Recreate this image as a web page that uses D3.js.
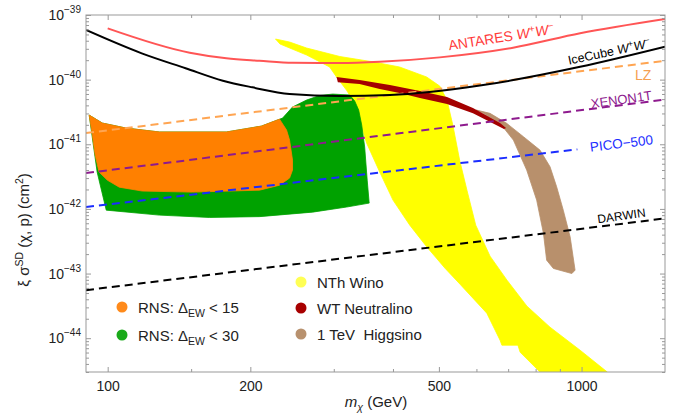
<!DOCTYPE html>
<html>
<head>
<meta charset="utf-8">
<script src="https://cdn.jsdelivr.net/npm/d3@7"></script>
<style>
  body { margin: 0; background: #fff; }
  svg { font-family: "Liberation Sans", Arial, sans-serif; }
</style>
</head>
<body>
<div id="chart"></div>
<script>
// ---- data: [m_chi (GeV), xi*sigma_SD (cm^2)] ----
const antares = [[100, 6.22e-40], [149, 2.61e-40], [178, 2.14e-40], [209, 1.96e-40], [246, 1.82e-40],
  [309, 1.81e-40], [375, 1.89e-40], [502, 2.21e-40], [717, 3.12e-40], [993, 5.21e-40], [1500, 8.67e-40]]
const icecube = [[90, 5.86e-40], [118, 2.55e-40], [146, 1.50e-40], [175, 9.62e-41], [202, 7.60e-41],
  [242, 5.98e-41], [309, 5.57e-41], [394, 5.78e-41], [610, 8.11e-41], [993, 1.58e-40], [1500, 3.23e-40]]
const lz = [[90, 1.49e-41], [1500, 1.96e-40]]
const xenon1t = [[90, 3.58e-42], [1500, 4.92e-41]]
const pico500 = [[90, 1.07e-42], [980, 8.34e-42]]
const darwin = [[90, 5.53e-44], [1500, 7.13e-43]]

const rnsEW30 = [[91.4, 2.83e-41], [97.4, 2.13e-41], [109.4, 1.78e-41], [128.5, 1.55e-41], [178.1, 1.55e-41],
  [211.1, 1.91e-41], [233.9, 2.54e-41], [245.5, 3.77e-41], [262.8, 4.83e-41], [280, 5.67e-41], [298.4, 5.98e-41],
  [324.1, 5.78e-41], [332.1, 4.67e-41], [338.6, 3.38e-41], [343.6, 1.98e-41], [348.6, 9.05e-42], [352.9, 2.79e-42],
  [356.3, 1.23e-42], [319.4, 1.07e-42], [270.6, 8.92e-43], [209.1, 7.60e-43], [163.9, 7.38e-43], [128.5, 8.02e-43],
  [99.3, 9.57e-43], [95.0, 3.72e-42]]
const rnsEW15 = [[91.4, 2.83e-41], [97.4, 2.13e-41], [109.4, 1.78e-41], [128.5, 1.55e-41], [178.1, 1.55e-41],
  [211.1, 1.91e-41], [230.5, 2.45e-41], [238.5, 1.66e-41], [242.0, 1.16e-41], [245.5, 5.69e-42], [245.5, 3.99e-42],
  [242.0, 3.00e-42], [230.5, 2.33e-42], [209.1, 1.95e-42], [150.9, 1.82e-42], [118.3, 1.89e-42], [105.8, 2.17e-42],
  [99.8, 2.79e-42], [95.9, 3.72e-42], [94.1, 6.81e-42], [92.7, 1.49e-41]]
const nthWino = [[226, 4.25e-40], [242, 3.82e-40], [263, 3.08e-40], [309, 2.28e-40], [362, 1.89e-40],
  [413, 1.57e-40], [471, 1.10e-40], [502, 7.96e-41], [520, 4.83e-41], [535, 1.98e-41], [553, 5.69e-42],
  [573, 1.95e-42], [598, 5.61e-43], [641, 1.86e-43], [696, 7.91e-44], [767, 3.13e-44], [858, 1.48e-44],
  [993, 6.52e-45], [1133, 3.0e-45], [817, 3.0e-45], [742, 6.07e-45], [734, 7.80e-45], [679, 7.80e-45],
  [673, 9.31e-45], [631, 2.44e-44], [554, 6.85e-44], [515, 1.21e-43], [472, 2.56e-43], [434, 5.61e-43],
  [400, 1.37e-42], [375, 3.72e-42], [352, 1.04e-41], [344, 1.78e-41], [332, 4.35e-41], [319, 6.90e-41],
  [304, 1.10e-40], [294, 1.57e-40], [263, 2.40e-40], [231, 3.56e-40]]
const wtNeutralino = [[304, 1.10e-40], [340, 9.86e-41], [394, 8.25e-41], [456, 6.66e-41], [520, 5.38e-41],
  [590, 3.63e-41], [673, 2.13e-41], [693, 1.78e-41], [686, 1.72e-41], [590, 3.02e-41], [520, 4.20e-41],
  [456, 5.20e-41], [413, 6.20e-41], [375, 7.15e-41], [340, 8.55e-41], [306, 9.10e-41]]
const higgsino1TeV = [[600, 3.38e-41], [641, 3.01e-41], [695, 2.11e-41], [754, 1.31e-41], [817, 8.13e-42],
  [858, 4.49e-42], [886, 2.20e-42], [915, 9.57e-43], [946, 3.70e-43], [969, 1.13e-43], [954, 1.00e-43],
  [872, 1.20e-43], [844, 1.61e-43], [831, 4.18e-43], [804, 1.37e-42], [766, 3.99e-42], [718, 1.16e-41],
  [673, 2.11e-41], [620, 3.01e-41]]

// ticks
const xTicksMajor = [100, 200, 500, 1000]
const xTicksMinor = [150, 300, 400, 600, 700, 800, 900]
const yTickExponents = [-39, -40, -41, -42, -43, -44]

// 1. dimensions
let dimensions = {
  width: 678,
  height: 416,
  margin: { top: 15, right: 13, bottom: 44, left: 86 },
}
dimensions.boundedWidth = dimensions.width - dimensions.margin.left - dimensions.margin.right
dimensions.boundedHeight = dimensions.height - dimensions.margin.top - dimensions.margin.bottom

// 2. canvas
const wrapper = d3.select("#chart").append("svg")
  .attr("width", dimensions.width)
  .attr("height", dimensions.height)

const bounds = wrapper.append("g")
  .attr("transform", `translate(${dimensions.margin.left},${dimensions.margin.top})`)

bounds.append("clipPath").attr("id", "plotclip")
  .append("rect")
  .attr("width", dimensions.boundedWidth)
  .attr("height", dimensions.boundedHeight)

// 3. scales
const xScale = d3.scaleLog().domain([90, 1500]).range([0, dimensions.boundedWidth])
const yScale = d3.scaleLog().domain([3e-45, 1e-39]).range([dimensions.boundedHeight, 0])

const lineGen = d3.line().x(d => xScale(d[0])).y(d => yScale(d[1]))
const smoothLine = d3.line().x(d => xScale(d[0])).y(d => yScale(d[1])).curve(d3.curveMonotoneX)
const areaGen = d3.line().x(d => xScale(d[0])).y(d => yScale(d[1])).curve(d3.curveLinearClosed)

// 4. regions
const plot = bounds.append("g").attr("clip-path", "url(#plotclip)")

const regions = [
  { pts: nthWino, color: "#ffff00", sw: 0.8 },
  { pts: rnsEW30, color: "#00a200", sw: 0.8 },
  { pts: rnsEW15, color: "#ff8000", sw: 0.8 },
  { pts: higgsino1TeV, color: "#b8906c", sw: 0.8 },
  { pts: wtNeutralino, color: "#a40000", sw: 0 },
]
plot.selectAll("path.region")
  .data(regions)
  .join("path")
  .attr("class", "region")
  .attr("d", r => areaGen(r.pts))
  .attr("fill", r => r.color)
  .attr("stroke", r => r.color)
  .attr("stroke-width", r => r.sw)

// 5. limit curves
const curves = [
  { pts: lz, color: "#ffa552", dash: "8,5", gen: lineGen },
  { pts: xenon1t, color: "#8e1a8e", dash: "8,5", gen: lineGen },
  { pts: pico500, color: "#1a2cff", dash: "8,5", gen: lineGen },
  { pts: darwin, color: "#000000", dash: "8,5", gen: lineGen },
  { pts: antares, color: "#ff5555", dash: null, gen: smoothLine },
  { pts: icecube, color: "#000000", dash: null, gen: smoothLine },
]
plot.selectAll("path.curve")
  .data(curves)
  .join("path")
  .attr("class", "curve")
  .attr("d", c => c.gen(c.pts))
  .attr("fill", "none")
  .attr("stroke", c => c.color)
  .attr("stroke-width", 2)
  .attr("stroke-dasharray", c => c.dash)

// curve labels
const ww = (sel) => {
  sel.append("tspan").attr("font-style", "italic").text("W")
  sel.append("tspan").attr("dy", -5).attr("font-size", "0.7em").text("+")
  sel.append("tspan").attr("dy", 5).attr("font-style", "italic").text("W")
  sel.append("tspan").attr("dy", -5).attr("font-size", "0.7em").text("−")
}
const labels = wrapper.append("g")

const antLabel = labels.append("text")
  .attr("transform", "translate(502,42) rotate(-9)")
  .attr("text-anchor", "middle").attr("font-size", 14).attr("fill", "#ff3b3b")
antLabel.append("tspan").text("ANTARES ")
ww(antLabel)

const iceLabel = labels.append("text")
  .attr("transform", "translate(610,56) rotate(-12)")
  .attr("text-anchor", "middle").attr("font-size", 12.5).attr("fill", "#000")
iceLabel.append("tspan").text("IceCube ")
ww(iceLabel)

labels.append("text").attr("x", 635).attr("y", 80).attr("font-size", 14)
  .attr("fill", "#f5a04f").text("LZ")
labels.append("text").attr("transform", "translate(622,104) rotate(-8)")
  .attr("text-anchor", "middle").attr("font-size", 13).attr("fill", "#8e1a8e").text("XENON1T")
labels.append("text").attr("transform", "translate(622,148) rotate(-7)")
  .attr("text-anchor", "middle").attr("font-size", 13.5).attr("fill", "#1a2cff").text("PICO−500")
labels.append("text").attr("transform", "translate(622,220) rotate(-8)")
  .attr("text-anchor", "middle").attr("font-size", 12).attr("fill", "#000").text("DARWIN")

// 6. legend
const legendItems = [
  { x: 122, y: 307, color: "#ff8a1a", label: ["RNS: Δ", "EW", "< 15"] },
  { x: 122, y: 335, color: "#1aaa1a", label: ["RNS: Δ", "EW", "< 30"] },
  { x: 301, y: 282, color: "#ffff55", label: ["NTh Wino"] },
  { x: 301, y: 308, color: "#a80000", label: ["WT Neutralino"] },
  { x: 301, y: 334, color: "#b8916e", label: ["1 TeV  Higgsino"] },
]
const legend = wrapper.append("g")
legend.selectAll("circle")
  .data(legendItems)
  .join("circle")
  .attr("cx", d => d.x).attr("cy", d => d.y).attr("r", 5.5)
  .attr("fill", d => d.color)
legendItems.forEach(d => {
  const t = legend.append("text").attr("x", d.x + 16).attr("y", d.y + 5.5)
    .attr("font-size", 15).attr("fill", "#222").attr("xml:space", "preserve")
  t.append("tspan").text(d.label[0])
  if (d.label.length > 1) {
    t.append("tspan").attr("dy", 4).attr("font-size", 10.5).text(d.label[1])
    t.append("tspan").attr("dy", -4).text(" " + d.label[2])
  }
})

// 7. axes
const axes = bounds.append("g").attr("color", "#999")
const xMajorFmt = d3.format("d")

axes.append("g")
  .attr("transform", `translate(0,${dimensions.boundedHeight})`)
  .call(d3.axisBottom(xScale).tickValues(xTicksMajor).tickSizeInner(-5).tickSizeOuter(0)
    .tickPadding(9).tickFormat(xMajorFmt))
  .call(g => g.select(".domain").remove())
  .call(g => g.selectAll("text").attr("fill", "#222").attr("font-size", 14)
    .attr("font-family", "Liberation Sans, Arial, sans-serif"))
axes.append("g")
  .attr("transform", `translate(0,${dimensions.boundedHeight})`)
  .call(d3.axisBottom(xScale).tickValues(xTicksMinor).tickSizeInner(-3).tickSizeOuter(0).tickFormat(""))
  .call(g => g.select(".domain").remove())
axes.append("g")
  .call(d3.axisTop(xScale).tickValues(xTicksMajor).tickSizeInner(-5).tickSizeOuter(0).tickFormat(""))
  .call(g => g.select(".domain").remove())
axes.append("g")
  .call(d3.axisTop(xScale).tickValues(xTicksMinor).tickSizeInner(-3).tickSizeOuter(0).tickFormat(""))
  .call(g => g.select(".domain").remove())

const yMajor = yTickExponents.map(e => Math.pow(10, e))
const yMinor = yScale.ticks(60).filter(v => !yTickExponents.some(e => Math.abs(Math.log10(v) - e) < 1e-6))

axes.append("g")
  .call(d3.axisLeft(yScale).tickValues(yMajor).tickSizeInner(-5).tickSizeOuter(0).tickFormat(""))
  .call(g => g.select(".domain").remove())
axes.append("g")
  .call(d3.axisLeft(yScale).tickValues(yMinor).tickSizeInner(-3).tickSizeOuter(0).tickFormat(""))
  .call(g => g.select(".domain").remove())
axes.append("g")
  .attr("transform", `translate(${dimensions.boundedWidth},0)`)
  .call(d3.axisRight(yScale).tickValues(yMajor).tickSizeInner(-5).tickSizeOuter(0).tickFormat(""))
  .call(g => g.select(".domain").remove())
axes.append("g")
  .attr("transform", `translate(${dimensions.boundedWidth},0)`)
  .call(d3.axisRight(yScale).tickValues(yMinor).tickSizeInner(-3).tickSizeOuter(0).tickFormat(""))
  .call(g => g.select(".domain").remove())

// y tick labels 10^n
const yLabels = bounds.append("g")
yTickExponents.forEach(e => {
  const t = yLabels.append("text")
    .attr("x", -5).attr("y", yScale(Math.pow(10, e)) + 5)
    .attr("text-anchor", "end").attr("font-size", 14).attr("fill", "#222")
  t.append("tspan").text("10")
  t.append("tspan").attr("dy", -7).attr("font-size", 10).text("−" + Math.abs(e))
})

// frame
bounds.append("rect")
  .attr("width", dimensions.boundedWidth)
  .attr("height", dimensions.boundedHeight)
  .attr("fill", "none")
  .attr("stroke", "#999")
  .attr("stroke-width", 1)

// axis titles
const xTitle = wrapper.append("text")
  .attr("x", 376).attr("y", 407)
  .attr("text-anchor", "middle").attr("font-size", 15).attr("fill", "#222")
xTitle.append("tspan").attr("font-style", "italic").text("m")
xTitle.append("tspan").attr("dy", 4).attr("font-size", 10.5).attr("font-style", "italic").text("χ")
xTitle.append("tspan").attr("dy", -4).text(" (GeV)")

const yTitle = wrapper.append("text")
  .attr("transform", "translate(29,230) rotate(-90)")
  .attr("text-anchor", "middle").attr("font-size", 15).attr("fill", "#222")
yTitle.append("tspan").text("ξ σ")
yTitle.append("tspan").attr("dy", -6).attr("font-size", 10.5).text("SD")
yTitle.append("tspan").attr("dy", 6).text(" (χ, p) (cm")
yTitle.append("tspan").attr("dy", -6).attr("font-size", 10.5).text("2")
yTitle.append("tspan").attr("dy", 6).text(")")
</script>
</body>
</html>
